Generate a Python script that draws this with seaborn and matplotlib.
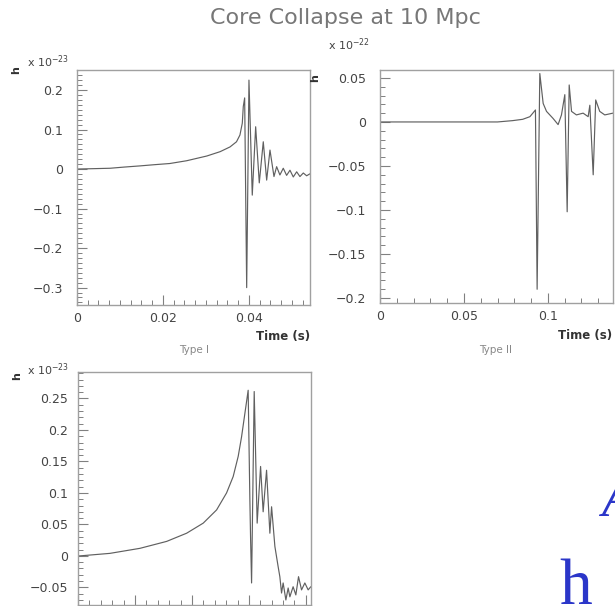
import matplotlib
matplotlib.use("Agg")
import matplotlib.pyplot as plt
from matplotlib.ticker import MultipleLocator, FuncFormatter
import seaborn as sns

# ---------------- data ----------------
# Type I : time (s), strain h (units of 1e-23)
t1 = [0.0, 0.0040, 0.0077, 0.0110, 0.0147, 0.0180, 0.0216, 0.0255, 0.0302, 0.0333,
      0.0356, 0.0371, 0.0379, 0.03845, 0.03868, 0.0390, 0.03947, 0.0400, 0.04077,
      0.04156, 0.0424, 0.04333, 0.04412, 0.04489, 0.04582, 0.04644, 0.0472, 0.04798,
      0.04876, 0.04954, 0.05031, 0.0511, 0.05186, 0.05264, 0.05342, 0.0542]
h1 = [0.0, 0.001, 0.002, 0.005, 0.008, 0.011, 0.014, 0.021, 0.033, 0.044,
      0.056, 0.069, 0.086, 0.116, 0.158, 0.180, -0.300, 0.225, -0.066,
      0.107, -0.035, 0.069, -0.028, 0.048, -0.019, 0.006, -0.015, 0.002,
      -0.016, -0.003, -0.020, -0.007, -0.019, -0.010, -0.017, -0.012]

# Type II : time (s), strain h (units of 1e-22)
t2 = [0.0, 0.0700, 0.0790, 0.0850, 0.0893, 0.0926, 0.0936, 0.0952, 0.0972, 0.0992,
      0.1031, 0.1061, 0.1081, 0.1101, 0.1115, 0.1127, 0.1141, 0.1170, 0.1210,
      0.1240, 0.1250, 0.1270, 0.1285, 0.1309, 0.1339, 0.1388]
h2 = [0.0, 0.0, 0.0015, 0.003, 0.006, 0.0136, -0.190, 0.055, 0.021, 0.012,
      0.004, -0.003, 0.008, 0.031, -0.102, 0.042, 0.012, 0.008, 0.010,
      0.006, 0.019, -0.060, 0.025, 0.012, 0.008, 0.010]

# Third waveform : time (s), strain h (units of 1e-23)
t3 = [0.0, 0.00035, 0.00561, 0.01088, 0.01556, 0.01907, 0.02198, 0.02433, 0.02608,
      0.02724, 0.02812, 0.02871, 0.02929, 0.02987, 0.03017, 0.03030, 0.03047,
      0.03093, 0.03145, 0.03205, 0.03250, 0.03310, 0.03368, 0.03398, 0.03456,
      0.03513, 0.03543, 0.03573, 0.03601, 0.03649, 0.03689, 0.03719, 0.03776,
      0.03824, 0.03871, 0.03924, 0.03982, 0.04040, 0.04087]
h3 = [0.0, 0.0, 0.004, 0.012, 0.023, 0.036, 0.052, 0.073, 0.100,
      0.126, 0.158, 0.189, 0.226, 0.263, 0.089, 0.025, -0.043,
      0.261, 0.052, 0.142, 0.070, 0.136, 0.036, 0.078, 0.015,
      -0.017, -0.033, -0.059, -0.043, -0.070, -0.051, -0.065, -0.049,
      -0.062, -0.033, -0.054, -0.043, -0.054, -0.049]

title = "Core Collapse at 10 Mpc"
xlabel = "Time (s)"
panel_names = ["Type I", "Type II"]
exponents = ["x 10$^{-23}$", "x 10$^{-22}$", "x 10$^{-23}$"]

# ---------------- style ----------------
sns.set_theme(style="white")
plt.rcParams["font.family"] = ["DejaVu Sans"]

W, H = 615, 606
fig = plt.figure(figsize=(W / 100, H / 100), dpi=100)


def px_axes(x0, y0, x1, y1):
    return fig.add_axes([x0 / W, 1 - y1 / H, (x1 - x0) / W, (y1 - y0) / H])


def fmt(v, pos):
    s = "%g" % round(v, 6)
    if s in ("-0", "0"):
        return "0"
    return s.replace("-", "\u2212")


LINE = "#606060"
SPINE = "#a0a0a0"
TICKC = "#444444"


def style(ax, xmaj, xmin, ymaj, ymin, ypad=10):
    for s in ax.spines.values():
        s.set_color(SPINE)
        s.set_linewidth(1.0)
    ax.xaxis.set_major_locator(MultipleLocator(xmaj))
    ax.xaxis.set_minor_locator(MultipleLocator(xmin))
    ax.yaxis.set_major_locator(MultipleLocator(ymaj))
    ax.yaxis.set_minor_locator(MultipleLocator(ymin))
    ax.xaxis.set_major_formatter(FuncFormatter(fmt))
    ax.yaxis.set_major_formatter(FuncFormatter(fmt))
    ax.tick_params(which="both", direction="in", colors="#808080",
                   labelcolor=TICKC, labelsize=9, top=False, right=False,
                   left=True, bottom=True)
    ax.tick_params(which="major", length=7.5, width=0.8)
    ax.tick_params(which="minor", length=3.6, width=0.7)
    ax.tick_params(axis="y", pad=ypad)
    ax.tick_params(axis="x", pad=5)
    ax.set_xlabel("")
    ax.set_ylabel("")


# Type I
ax1 = px_axes(77, 70, 310, 305)
sns.lineplot(x=t1, y=h1, ax=ax1, sort=False, estimator=None, color=LINE, linewidth=0.85)
ax1.set_xlim(0, 0.0542)
ax1.set_ylim(-0.344, 0.2506)
style(ax1, 0.02, 0.0025, 0.1, 0.0125)

# Type II
ax2 = px_axes(380, 70, 613, 303)
sns.lineplot(x=t2, y=h2, ax=ax2, sort=False, estimator=None, color=LINE, linewidth=0.85)
ax2.set_xlim(0, 0.1388)
ax2.set_ylim(-0.2056, 0.059)
style(ax2, 0.05, 0.01, 0.05, 0.01)

# third (its time labels fall below the visible area in the reference)
ax3 = px_axes(78, 372, 311, 605)
sns.lineplot(x=t3, y=h3, ax=ax3, sort=False, estimator=None, color=LINE, linewidth=0.85)
ax3.set_xlim(0, 0.0409)
ax3.set_ylim(-0.078, 0.292)
style(ax3, 0.01, 0.002, 0.05, 0.01, ypad=7)
ax3.tick_params(axis="x", labelbottom=False)


def ftext(x, y, s, **kw):
    fig.text(x / W, 1 - y / H, s, **kw)


ftext(345, 18, title, ha="center", va="center", fontsize=16, color="#777777")

# axis decorations
for (hx, hy), (ex, ey), e in zip([(16, 70), (315, 78), (17, 376)],
                                 [(27, 67), (328, 50), (27, 375)], exponents):
    ftext(hx, hy, "h", rotation=90, ha="center", va="center", fontsize=8,
          color="#333333", fontweight="bold")
    ftext(ex, ey, e, ha="left", va="baseline", fontsize=8, color="#444444")

ftext(310, 336, xlabel, ha="right", va="center", fontsize=8.5, fontweight="bold", color="#333333")
ftext(612, 335, xlabel, ha="right", va="center", fontsize=8.5, fontweight="bold", color="#333333")
ftext(194, 350, panel_names[0], ha="center", va="center", fontsize=7.5, color="#888888")
ftext(496, 350, panel_names[1], ha="center", va="center", fontsize=7.5, color="#888888")

# slide fragments in blue serif
BLUE = "#2B36C9"
ftext(559, 604, "h", ha="left", va="baseline", fontsize=47, color=BLUE,
      family=["Liberation Serif", "DejaVu Serif"])
ftext(601, 516, "A", ha="left", va="baseline", fontsize=40, color=BLUE,
      family=["Liberation Serif", "DejaVu Serif"], style="italic")

fig.savefig("out.png", dpi=100)
